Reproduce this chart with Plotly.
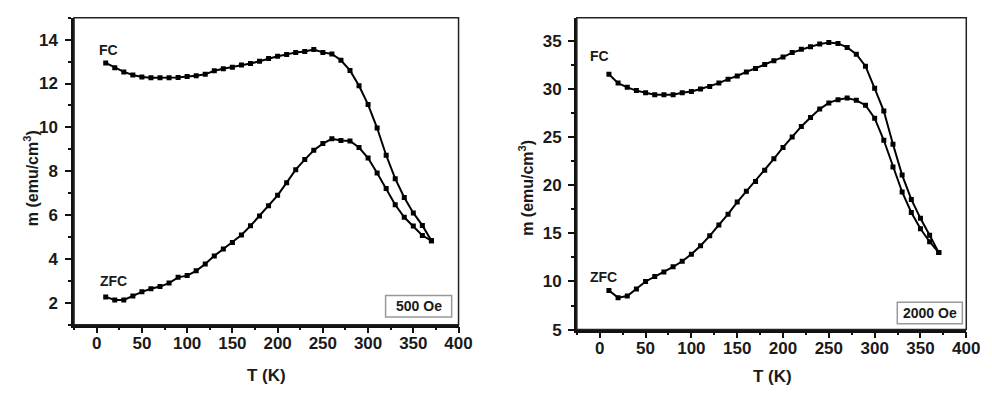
import plotly.graph_objects as go

T = [10, 20, 30, 40, 50, 60, 70, 80, 90, 100, 110, 120, 130, 140, 150, 160, 170, 180,
     190, 200, 210, 220, 230, 240, 250, 260, 270, 280, 290, 300, 310, 320, 330, 340,
     350, 360, 370]

fc_500 = [12.94, 12.72, 12.53, 12.39, 12.30, 12.26, 12.26, 12.26, 12.28, 12.32, 12.35,
          12.42, 12.58, 12.67, 12.74, 12.84, 12.91, 13.02, 13.14, 13.24, 13.32, 13.42,
          13.46, 13.55, 13.42, 13.35, 13.06, 12.6, 11.9, 11.04, 9.97, 8.73, 7.66, 6.8,
          6.1, 5.53, 4.83]
zfc_500 = [2.27, 2.13, 2.13, 2.31, 2.5, 2.64, 2.74, 2.9, 3.16, 3.24, 3.46, 3.77, 4.14,
           4.45, 4.75, 5.09, 5.51, 5.96, 6.43, 6.9, 7.48, 8.07, 8.53, 8.96, 9.26, 9.48,
           9.4, 9.38, 9.08, 8.6, 7.92, 7.21, 6.47, 5.9, 5.5, 5.07, 4.83]

fc_2000 = [31.52, 30.61, 30.17, 29.83, 29.6, 29.4, 29.4, 29.4, 29.6, 29.73, 30.0, 30.27,
           30.61, 31.02, 31.35, 31.77, 32.13, 32.54, 32.94, 33.31, 33.78, 34.12, 34.39,
           34.66, 34.83, 34.73, 34.32, 33.61, 32.37, 30.07, 27.7, 24.26, 21.05, 18.52,
           16.56, 14.81, 13.0]
zfc_2000 = [9.06, 8.32, 8.49, 9.23, 10.0, 10.51, 10.99, 11.52, 12.1, 12.84, 13.72, 14.74,
            15.88, 16.99, 18.25, 19.37, 20.38, 21.56, 22.74, 23.93, 25.0, 26.11, 27.03,
            27.91, 28.55, 28.89, 29.05, 28.82, 28.31, 26.96, 24.67, 21.9, 19.3, 17.17,
            15.48, 14.13, 13.0]

FONT = "Liberation Sans"
W, H = 992, 393

fig = go.Figure()

def add_series(y, xa, ya):
    fig.add_trace(go.Scatter(
        x=T, y=y, xaxis=xa, yaxis=ya, mode="lines+markers",
        line=dict(color="black", width=2),
        marker=dict(symbol="square", size=5, color="black"),
        showlegend=False, hoverinfo="skip"))

add_series(fc_500, "x", "y")
add_series(zfc_500, "x", "y")
add_series(fc_2000, "x2", "y2")
add_series(zfc_2000, "x2", "y2")

# domains from pixel geometry
L1, R1, T1, B1 = 67, 457, 10, 325
L2, R2, T2, B2 = 577, 972, 10, 330

def xd(a, b):
    return [a / W, b / W]

def yd(top, bot):
    return [(H - bot) / H, (H - top) / H]

tickfont = dict(family=FONT, size=17, color="#1a1a1a", weight="bold")

def xaxis(domain, anchor):
    return dict(domain=domain, anchor=anchor, range=[-25, 400], dtick=50, tick0=0,
                showline=True, linecolor="#111", linewidth=2.5, ticks="outside",
                ticklen=6, tickwidth=2, tickcolor="#111", showgrid=False, zeroline=False,
                minor=dict(ticks="outside", ticklen=3, tickwidth=1.5, tickcolor="#111",
                           dtick=25, tick0=0, showgrid=False),
                tickfont=tickfont, ticklabelstandoff=-5, fixedrange=True)

def yaxis(domain, anchor, rng, dt, mdt, t0, so):
    return dict(domain=domain, anchor=anchor, range=rng, dtick=dt, tick0=t0,
                showline=True, linecolor="#111", linewidth=2.5, ticks="outside",
                ticklen=6, tickwidth=2, tickcolor="#111", showgrid=False, zeroline=False,
                minor=dict(ticks="outside", ticklen=3, tickwidth=1.5, tickcolor="#111",
                           dtick=mdt, tick0=t0, showgrid=False),
                tickfont=tickfont, ticklabelstandoff=so, fixedrange=True)

fig.update_layout(
    width=W, height=H, margin=dict(l=0, r=0, t=0, b=0),
    paper_bgcolor="white", plot_bgcolor="white",
    xaxis=xaxis(xd(L1, R1), "y"),
    yaxis=yaxis(yd(T1, B1), "x", [1, 15], 2, 1, 0, 4),
    xaxis2=xaxis(xd(L2, R2), "y2"),
    yaxis2=yaxis(yd(T2, B2), "x2", [5, 37.4], 5, 2.5, 0, 3),
)

# box outlines (top/right)
for xr, yr in (("x", "y"), ("x2", "y2")):
    fig.add_shape(type="rect", xref=f"{xr} domain", yref=f"{yr} domain",
                  x0=0, x1=1, y0=0, y1=1, line=dict(color="#222", width=1.5),
                  layer="above")

def px_ann(text, x, y, size=15, xanchor="center", textangle=0, **kw):
    fig.add_annotation(text=text, x=x / W, y=(H - y) / H, xref="paper", yref="paper",
                       showarrow=False, xanchor=xanchor, yanchor="middle",
                       textangle=textangle,
                       font=dict(family=FONT, size=size, color="#1a1a1a", weight="bold"), **kw)

# axis titles
px_ann("T (K)", 262, 377, size=17)
px_ann("T (K)", 775, 378, size=17)
px_ann("m (emu/cm<sup>3</sup>)", 23, 175, size=16, textangle=-90)
px_ann("m (emu/cm<sup>3</sup>)", 526, 185, size=16, textangle=-90)

# curve labels
px_ann("FC", 102, 43, size=14)
px_ann("ZFC", 107, 280, size=14)
px_ann("FC", 600, 49, size=14)
px_ann("ZFC", 604, 276, size=14)

# field boxes
fig.add_shape(type="rect", xref="paper", yref="paper",
              x0=383 / W, x1=450 / W, y0=(H - 317) / H, y1=(H - 295) / H,
              line=dict(color="#999", width=1.5), fillcolor="white")
px_ann("500 Oe", 416.5, 306, size=14)
fig.add_shape(type="rect", xref="paper", yref="paper",
              x0=902 / W, x1=968 / W, y0=(H - 324) / H, y1=(H - 302) / H,
              line=dict(color="#999", width=1.5), fillcolor="white")
px_ann("2000 Oe", 935, 313, size=14)

fig.write_html("out.html")
